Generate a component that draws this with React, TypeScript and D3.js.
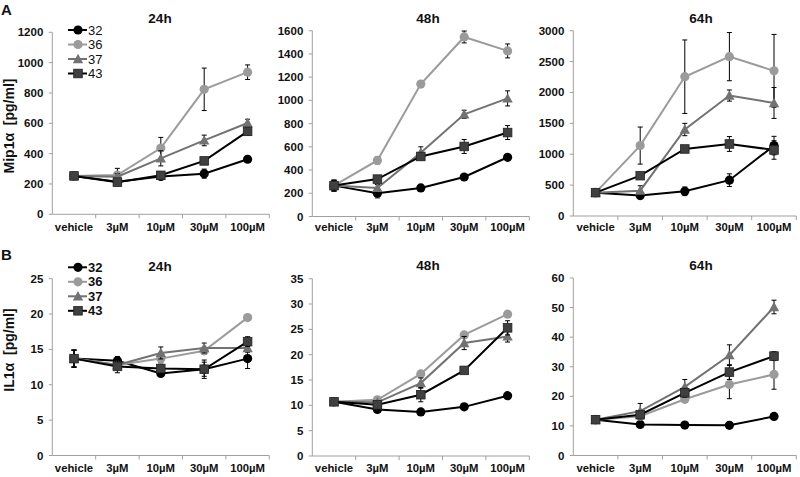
import React from 'react';
import * as d3 from 'd3';

const categories = ['vehicle', '3µM', '10µM', '30µM', '100µM'];
const seriesNames = ['32', '36', '37', '43'];
const timeLabels = ['24h', '48h', '64h'];

// Panel A: Mip1α [pg/ml]
const mip24 = [
  [253, 215, 250, 268, 363],
  [253, 259, 437, 824, 937],
  [253, 248, 369, 487, 602],
  [253, 212, 257, 352, 547],
];
const mip24Err = [
  [15, 15, 15, 30, 12],
  [15, 44, 70, 140, 48],
  [15, 20, 50, 35, 25],
  [15, 15, 15, 20, 25],
];
const mip48 = [
  [266, 200, 246, 340, 510],
  [266, 483, 1140, 1546, 1426],
  [266, 246, 550, 880, 1017],
  [266, 322, 517, 603, 723],
];
const mip48Err = [
  [46, 40, 15, 15, 15],
  [46, 30, 20, 51, 60],
  [46, 30, 50, 35, 65],
  [46, 20, 30, 60, 60],
];
const mip64 = [
  [378, 330, 400, 580, 1140],
  [378, 1140, 2255, 2580, 2350],
  [378, 410, 1400, 1950, 1830],
  [378, 653, 1085, 1166, 1069],
];
const mip64Err = [
  [20, 50, 70, 103, 150],
  [20, 300, 595, 390, 590],
  [20, 80, 100, 90, 250],
  [20, 30, 40, 120, 150],
];

// Panel B: IL1α [pg/ml]
const il24 = [
  [13.7, 13.4, 11.6, 12.2, 13.7],
  [13.7, 12.8, 13.7, 14.8, 19.5],
  [13.7, 12.8, 14.5, 15.2, 15.2],
  [13.7, 12.6, 12.3, 12.2, 16.1],
];
const il24Err = [
  [1.2, 0.6, 0.3, 1.0, 1.4],
  [1.2, 0.5, 0.6, 0.5, 0.3],
  [1.2, 0.5, 0.85, 0.7, 0.6],
  [1.2, 0.9, 0.5, 1.3, 0.7],
];
const il48 = [
  [10.7, 9.2, 8.7, 9.7, 11.9],
  [10.7, 11.1, 16.2, 23.9, 28.0],
  [10.7, 10.6, 14.4, 22.3, 23.6],
  [10.7, 10.1, 12.1, 16.9, 25.3],
];
const il48Err = [
  [0.3, 0.3, 0.3, 0.3, 0.3],
  [0.3, 0.3, 0.5, 0.4, 0.4],
  [0.3, 0.3, 1.0, 1.3, 1.1],
  [0.3, 0.5, 1.4, 0.5, 1.4],
];
const il64 = [
  [12.1, 10.5, 10.3, 10.2, 13.2],
  [12.1, 13.3, 19.0, 24.0, 27.4],
  [12.1, 15.0, 23.2, 33.9, 50.2],
  [12.1, 13.8, 21.2, 28.2, 33.6],
];
const il64Err = [
  [0.5, 0.5, 0.5, 0.5, 0.5],
  [0.5, 1.0, 1.0, 4.8, 5.0],
  [0.5, 2.6, 2.5, 3.5, 2.3],
  [0.5, 1.0, 1.5, 2.5, 1.5],
];

const mipMax = [1200, 1600, 3000];
const mipStep = [200, 200, 500];
const ilMax = [25, 35, 60];
const ilStep = [5, 5, 10];

const colors = ['#000000', '#9b9b9b', '#727272', '#000000'];
const markerFill = ['#000000', '#9b9b9b', '#727272', '#404040'];
const markerShape = ['circle', 'circle', 'triangle', 'square'];

const FONT = 'Arial, "Liberation Sans", Helvetica, sans-serif';
const AXIS = '#a0a0a0';

const panelXs = [
  [52.3, 269.3],
  [312.3, 529.3],
  [573.3, 796.3],
];
const titleXs = [160, 428, 701];

function Marker({ shape, x, y, fill }: { shape: string; x: number; y: number; fill: string }) {
  if (shape === 'circle') return <circle cx={x} cy={y} r={4.6} fill={fill} />;
  if (shape === 'square')
    return <rect x={x - 4.3} y={y - 4.3} width={8.6} height={8.6} fill={fill} stroke="#222" strokeWidth={0.8} />;
  const s = 5.2;
  return (
    <path
      d={`M${x},${y - s} L${x + s},${y + s * 0.8} L${x - s},${y + s * 0.8} Z`}
      fill={fill}
    />
  );
}

function Panel({
  x0, x1, top, bottom, yMax, yStep, data, err, title, titleX, titleY, labelY,
}: any) {
  const xs = d3.scaleBand<string>().domain(categories).range([x0, x1]).paddingInner(0).paddingOuter(0);
  const ys = d3.scaleLinear().domain([0, yMax]).range([bottom, top]);
  const ticks = d3.range(0, yMax + yStep / 2, yStep);
  const bw = xs.bandwidth();
  const cx = (c: string) => (xs(c) as number) + bw / 2;
  const line = d3
    .line<number>()
    .x((_, i) => cx(categories[i]))
    .y((d) => ys(d));
  return (
    <g>
      <text x={titleX} y={titleY} textAnchor="middle" fontFamily={FONT} fontWeight="bold" fontSize={13.5} fill="#111">
        {title}
      </text>
      <line x1={x0} x2={x0} y1={top} y2={bottom} stroke={AXIS} strokeWidth={1} />
      <line x1={x0} x2={x1} y1={bottom} y2={bottom} stroke={AXIS} strokeWidth={1} />
      {ticks.map((t: number) => (
        <g key={t}>
          <line x1={x0 - 3.5} x2={x0} y1={ys(t)} y2={ys(t)} stroke={AXIS} />
          <text
            x={x0 - 9}
            y={ys(t) + 4}
            textAnchor="end"
            fontFamily={FONT}
            fontWeight="bold"
            fontSize={11.5}
            fill="#111"
          >
            {t}
          </text>
        </g>
      ))}
      {categories.map((c) => (
        <g key={c}>
          <line
            x1={(xs(c) as number) + bw}
            x2={(xs(c) as number) + bw}
            y1={bottom}
            y2={bottom + 4}
            stroke={AXIS}
          />
          <text x={cx(c)} y={labelY} textAnchor="middle" fontFamily={FONT} fontWeight="bold" fontSize={11.3} fill="#111">
            {c}
          </text>
        </g>
      ))}
      {data.map((vals: number[], si: number) => (
        <g key={si}>
          <path d={line(vals) as string} fill="none" stroke={colors[si]} strokeWidth={2} />
          {vals.map((v, i) => {
            const e = err[si][i];
            const px = cx(categories[i]);
            return (
              <g key={i}>
                <line x1={px} x2={px} y1={ys(v - e)} y2={ys(v + e)} stroke="#000" strokeWidth={1} />
                <line x1={px - 2.5} x2={px + 2.5} y1={ys(v + e)} y2={ys(v + e)} stroke="#000" strokeWidth={1} />
                <line x1={px - 2.5} x2={px + 2.5} y1={ys(v - e)} y2={ys(v - e)} stroke="#000" strokeWidth={1} />
              </g>
            );
          })}
          {vals.map((v, i) => (
            <Marker key={'m' + i} shape={markerShape[si]} x={cx(categories[i])} y={ys(v)} fill={markerFill[si]} />
          ))}
        </g>
      ))}
    </g>
  );
}

function Legend({ y0, bold }: { y0: number; bold: boolean }) {
  const gap = 14.5;
  return (
    <g>
      {seriesNames.map((n, i) => {
        const y = y0 + i * gap;
        return (
          <g key={n}>
            <line x1={68} x2={87} y1={y} y2={y} stroke={colors[i]} strokeWidth={2} />
            <Marker shape={markerShape[i]} x={78} y={y} fill={markerFill[i]} />
            <text x={88} y={y + 4.5} fontFamily={FONT} fontSize={13} fontWeight={bold ? 'bold' : 'normal'} fill="#111">
              {n}
            </text>
          </g>
        );
      })}
    </g>
  );
}

export default function App() {
  const rowA = [
    { top: 32.3, bottom: 214.3 },
    { top: 30.7, bottom: 216.5 },
    { top: 30.7, bottom: 216 },
  ];
  const rowB = [
    { top: 278.7, bottom: 455.5 },
    { top: 278.7, bottom: 456 },
    { top: 278, bottom: 455.5 },
  ];
  const mipData = [mip24, mip48, mip64];
  const mipErr = [mip24Err, mip48Err, mip64Err];
  const ilData = [il24, il48, il64];
  const ilErr = [il24Err, il48Err, il64Err];
  return (
    <svg width={800} height={477} style={{ position: 'absolute', left: 0, top: 0, background: '#fff' }}>
      <rect x={0} y={0} width={800} height={477} fill="#fff" />
      <text x={1} y={15} fontFamily={FONT} fontWeight="bold" fontSize={15} fill="#111">A</text>
      <text x={1} y={260} fontFamily={FONT} fontWeight="bold" fontSize={15} fill="#111">B</text>
      <text
        transform="translate(14,126) rotate(-90)"
        textAnchor="middle"
        fontFamily={FONT}
        fontWeight="bold"
        fontSize={14}
        fill="#111"
        xmlSpace="preserve"
      >
        {'Mip1α  [pg/ml]'}
      </text>
      <text
        transform="translate(14,350) rotate(-90)"
        textAnchor="middle"
        fontFamily={FONT}
        fontWeight="bold"
        fontSize={14}
        fill="#111"
        xmlSpace="preserve"
      >
        {'IL1α  [pg/ml]'}
      </text>
      {timeLabels.map((t, i) => (
        <Panel
          key={'a' + i}
          x0={panelXs[i][0]}
          x1={panelXs[i][1]}
          top={rowA[i].top}
          bottom={rowA[i].bottom}
          yMax={mipMax[i]}
          yStep={mipStep[i]}
          data={mipData[i]}
          err={mipErr[i]}
          title={t}
          titleX={titleXs[i]}
          titleY={23}
          labelY={231}
        />
      ))}
      {timeLabels.map((t, i) => (
        <Panel
          key={'b' + i}
          x0={panelXs[i][0]}
          x1={panelXs[i][1]}
          top={rowB[i].top}
          bottom={rowB[i].bottom}
          yMax={ilMax[i]}
          yStep={ilStep[i]}
          data={ilData[i]}
          err={ilErr[i]}
          title={t}
          titleX={titleXs[i]}
          titleY={i === 0 ? 271 : 269.5}
          labelY={472}
        />
      ))}
      <Legend y0={30} bold={false} />
      <Legend y0={267.3} bold={true} />
    </svg>
  );
}
